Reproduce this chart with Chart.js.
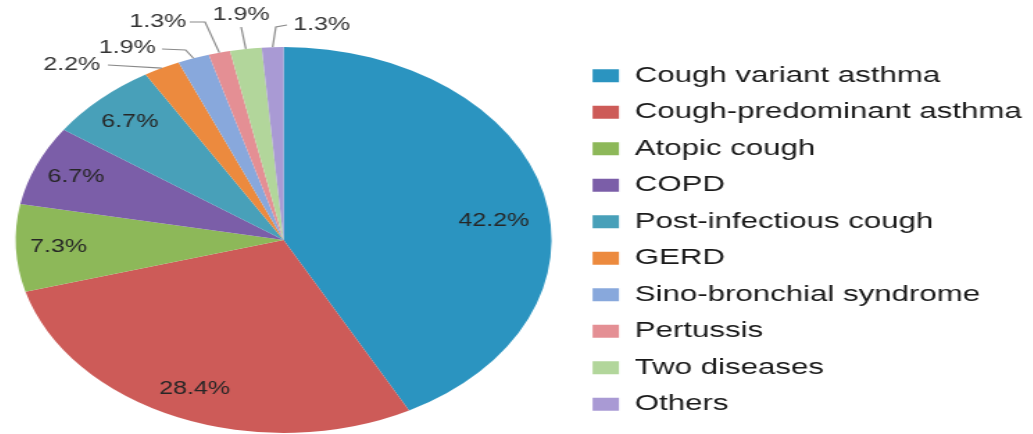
<!DOCTYPE html>
<html>
<head>
<meta charset="utf-8">
<script src="https://cdn.jsdelivr.net/npm/chart.js@4.4.0/dist/chart.umd.min.js"></script>
<style>
  html, body { margin: 0; padding: 0; background: #fff; overflow: hidden; }
  /* the figure is drawn narrow and stretched sideways */
  #pie { display: block; transform: translateX(-6px) scaleX(1.3884); transform-origin: 0 0; }
</style>
</head>
<body>
<canvas id="pie" width="744" height="434"></canvas>
<script>
const categories = ['Cough variant asthma', 'Cough-predominant asthma', 'Atopic cough', 'COPD',
  'Post-infectious cough', 'GERD', 'Sino-bronchial syndrome', 'Pertussis', 'Two diseases', 'Others'];
const percents = [42.2, 28.4, 7.3, 6.7, 6.7, 2.2, 1.9, 1.3, 1.9, 1.3];
const colors = ['#2b94c0', '#cd5b58', '#8db859', '#7b5ea8', '#48a0b9',
  '#ec8a3e', '#88a8dc', '#e48f94', '#b2d69b', '#a99ad4'];

const FONT = "'Liberation Sans', Arial, sans-serif";

// small slices get their label outside with a leader line
// text = centre of the label, path = points of the line before it reaches the slice edge
const callouts = {
  5: { text: [56, 65], path: [[82, 65]] },
  6: { text: [96, 48], path: [[121, 49], [138, 50]] },
  7: { text: [118, 22], path: [[141, 22], [152, 22]] },
  8: { text: [178, 15], path: [[178, 27]] },
  9: { text: [236, 25], path: [[211, 25], [203, 27]] }
};
// inside labels sit at 0.84 of the radius; the big slice's label sits a bit lower
const nudge = { 0: { deg: 7, r: 0.79 } };

const pctLabels = {
  id: 'pctLabels',
  afterDatasetsDraw(chart) {
    const ctx = chart.ctx;
    const meta = chart.getDatasetMeta(0);
    ctx.save();
    ctx.font = '18px ' + FONT;
    ctx.textAlign = 'center';
    ctx.textBaseline = 'middle';
    meta.data.forEach((arc, i) => {
      const { x, y, startAngle, endAngle, outerRadius } = arc.getProps(['x', 'y', 'startAngle', 'endAngle', 'outerRadius'], true);
      const mid = (startAngle + endAngle) / 2;
      const txt = percents[i].toFixed(1) + '%';
      const c = callouts[i];
      if (!c) {
        const n = nudge[i] || { deg: 0, r: 0.84 };
        const a = mid + n.deg * Math.PI / 180;
        const r = outerRadius * n.r;
        ctx.fillStyle = '#262626';
        ctx.fillText(txt, x + Math.cos(a) * r, y + Math.sin(a) * r);
        return;
      }
      const ex = x + Math.cos(mid) * outerRadius;
      const ey = y + Math.sin(mid) * outerRadius;
      ctx.strokeStyle = '#8a8a8a';
      ctx.lineWidth = 1.2;
      ctx.beginPath();
      ctx.moveTo(c.path[0][0], c.path[0][1]);
      c.path.slice(1).forEach(p => ctx.lineTo(p[0], p[1]));
      ctx.lineTo(ex, ey);
      ctx.stroke();
      ctx.fillStyle = '#333';
      ctx.fillText(txt, c.text[0], c.text[1]);
    });
    ctx.restore();
  }
};

new Chart(document.getElementById('pie'), {
  type: 'pie',
  data: {
    labels: categories,
    datasets: [{
      data: percents,
      backgroundColor: colors,
      borderWidth: 0,
      radius: 193
    }]
  },
  options: {
    responsive: false,
    animation: false,
    devicePixelRatio: 1,
    layout: { padding: { top: 46, left: 0, right: -6.3, bottom: 0 } },
    plugins: {
      legend: {
        position: 'right',
        align: 'center',
        labels: {
          boxWidth: 19,
          boxHeight: 13,
          padding: 14,
          color: '#1a1a1a',
          font: { size: 22.5, family: FONT }
        }
      },
      tooltip: { enabled: false }
    }
  },
  plugins: [pctLabels]
});
</script>
</body>
</html>
